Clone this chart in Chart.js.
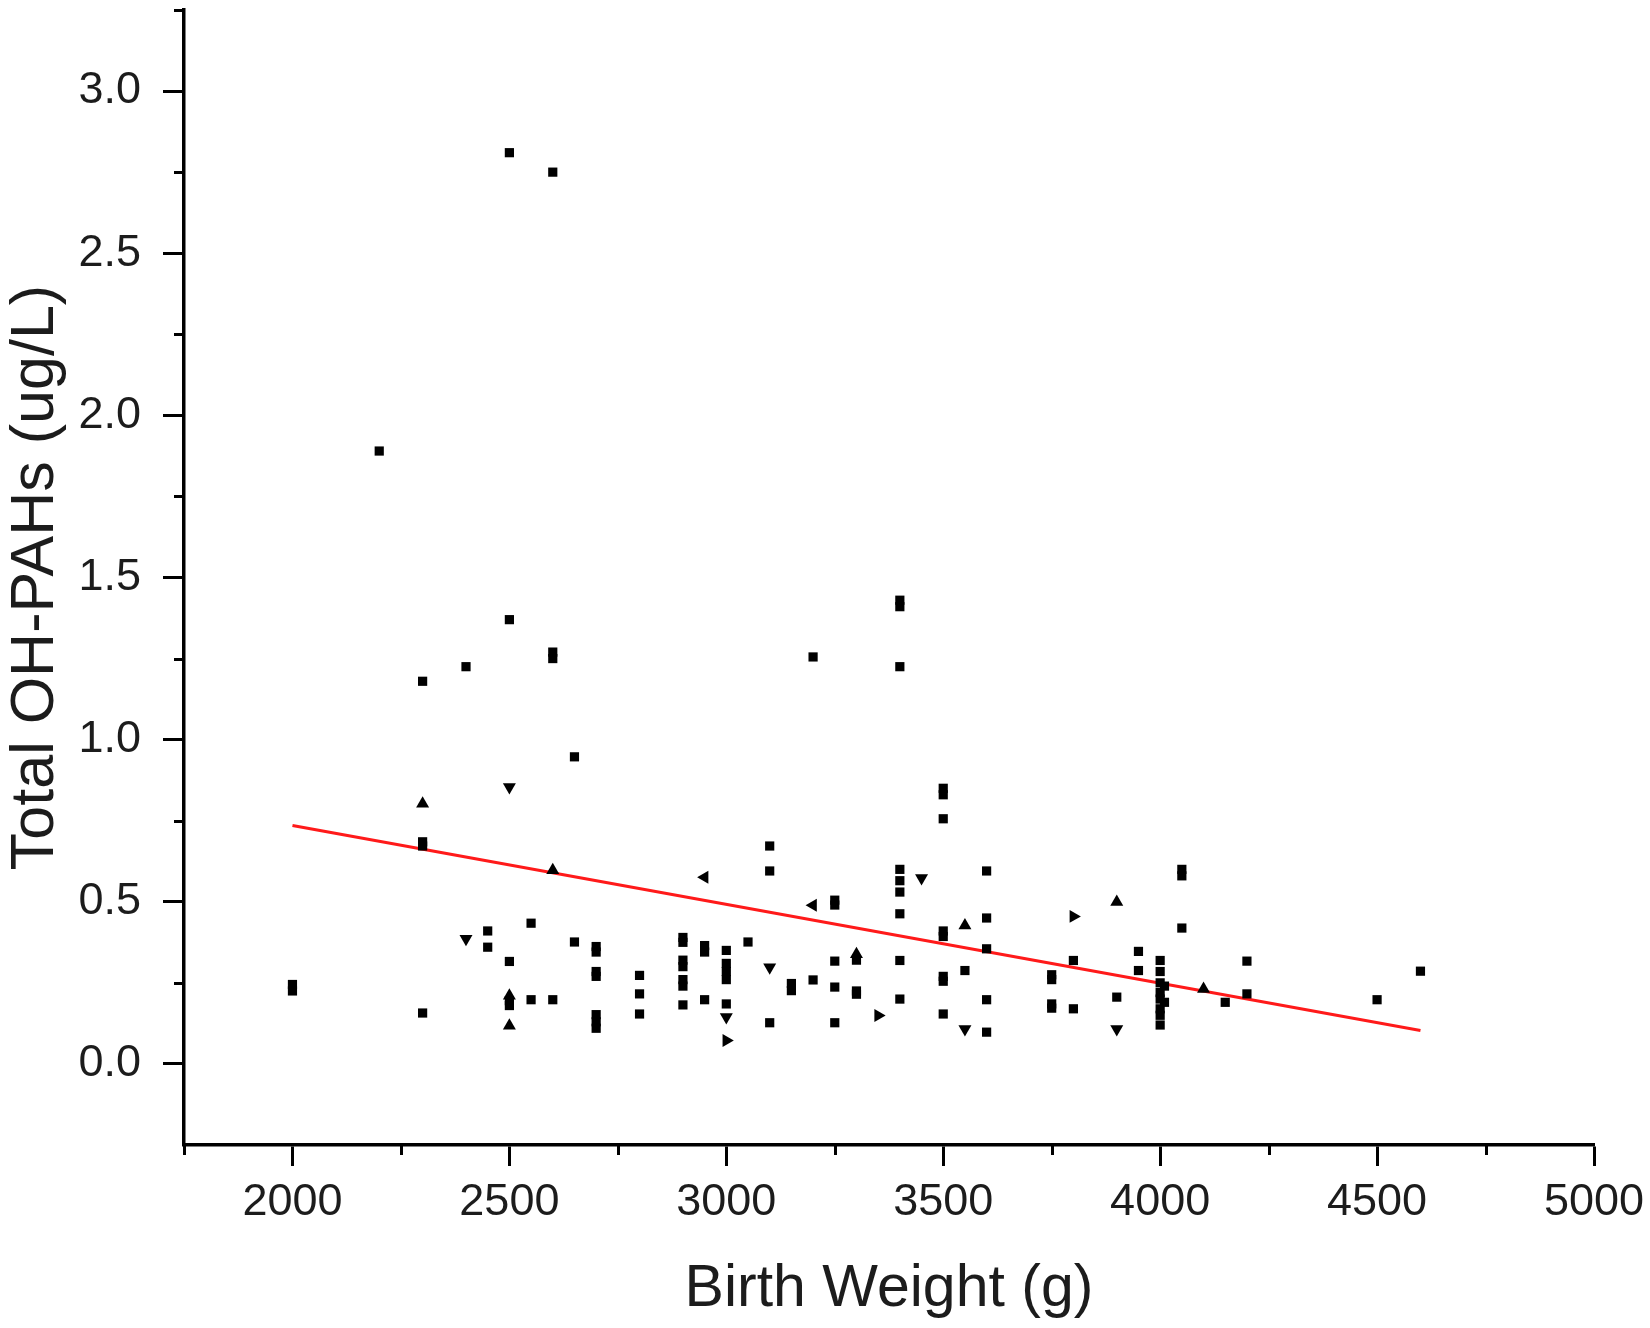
<!DOCTYPE html>
<html>
<head>
<meta charset="utf-8">
<script src="https://cdn.jsdelivr.net/npm/chart.js@4.4.0/dist/chart.umd.min.js"></script>
<style>
  html, body { margin: 0; padding: 0; background: #fff; }
  #wrap { width: 1650px; height: 1328px; }
</style>
</head>
<body>
<div id="wrap"><canvas id="c" width="1650" height="1328"></canvas></div>
<script>
// ---- data ----
const squareX = [2500,2600,2200,2300,2400,2500,2600,2600,3200,3400,3400,3400,2650,3500,3500,3500,3100,3100,2300,2300,
  3400,3400,3400,3600,4050,4050,3250,3250,3400,3600,4050,3500,3500,3600,3950,3950,2000,2000,2550,2450,
  2450,2500,2650,2700,2700,2700,2700,2700,2700,2700,2800,2800,2800,2500,2500,2550,2600,2300,2900,2900,
  2900,2900,2900,2900,2900,2950,2950,2950,3000,3000,3000,3000,3000,3050,3100,3150,3150,3200,3250,3250,
  3250,3300,3300,3300,3400,3400,3500,3500,3500,3550,3600,3600,3750,3750,3750,3750,3800,3800,3900,4000,
  4000,4000,4000,4000,4000,4000,4000,4010,4010,4150,4200,4200,4500,4600];
const squareY = [2.81,2.75,1.89,1.18,1.225,1.37,1.27,1.25,1.255,1.43,1.41,1.225,0.947,0.85,0.83,0.756,0.672,0.595,0.685,0.672,
  0.60,0.565,0.53,0.595,0.60,0.58,0.505,0.49,0.463,0.45,0.419,0.41,0.393,0.355,0.347,0.288,0.245,0.225,0.434,0.41,
  0.36,0.316,0.376,0.362,0.345,0.285,0.27,0.152,0.13,0.11,0.273,0.216,0.154,0.195,0.18,0.198,0.198,0.157,0.39,0.375,
  0.32,0.30,0.26,0.24,0.182,0.365,0.345,0.198,0.35,0.31,0.285,0.26,0.185,0.376,0.127,0.248,0.226,0.259,0.317,0.237,
  0.127,0.32,0.225,0.215,0.319,0.2,0.27,0.255,0.154,0.288,0.198,0.098,0.275,0.26,0.185,0.172,0.319,0.17,0.206,0.319,
  0.285,0.25,0.22,0.2,0.17,0.15,0.12,0.24,0.19,0.19,0.317,0.216,0.198,0.286];

const upTriX = [2300,2600,2500,2500,3300,3550,3900,4100];
const upTriY = [0.802,0.597,0.118,0.21,0.338,0.427,0.499,0.231];
const downTriX = [2500,2400,3450,3000,3100,3550,3900];
const downTriY = [0.854,0.386,0.573,0.145,0.298,0.108,0.108];
const leftTriX = [2950,3200];
const leftTriY = [0.576,0.489];
const rightTriX = [3000,3350,3800];
const rightTriY = [0.072,0.149,0.455];

const fitX = [2000,4600];
const fitY = [0.735,0.103];

const xTicks = [2000,2500,3000,3500,4000,4500,5000];
const xTickLabels = ['2000','2500','3000','3500','4000','4500','5000'];
const xMinorTicks = [1750,2250,2750,3250,3750,4250,4750];
const yTicks = [0,0.5,1,1.5,2,2.5,3];
const yTickLabels = ['0.0','0.5','1.0','1.5','2.0','2.5','3.0'];
const yMinorTicks = [0.25,0.75,1.25,1.75,2.25,2.75,3.25];

const xTitle = 'Birth Weight (g)';
const yTitle = 'Total OH-PAHs (ug/L)';

// ---- build ----
const pts = (xs, ys) => xs.map((x, i) => ({x: x, y: ys[i]}));
const FONT = "'Liberation Sans', Arial, sans-serif";
const TXT = '#1c1c1c';

function markerSet(data, style, rot, r) {
  return {
    type: 'scatter', data: data, pointStyle: style, rotation: rot,
    pointRadius: r, pointHoverRadius: r, backgroundColor: '#000', borderColor: '#000',
    pointBorderWidth: 0, borderWidth: 0, order: 1
  };
}

const minorTicksPlugin = {
  id: 'minorTicks',
  afterDraw(chart) {
    const ctx = chart.ctx;
    const xs = chart.scales.x, ys = chart.scales.y;
    const ca = chart.chartArea;
    ctx.save();
    ctx.strokeStyle = '#000';
    ctx.lineWidth = 3;
    ctx.beginPath();
    yMinorTicks.forEach(v => {
      const p = Math.round(ys.getPixelForValue(v)) + 0.5;
      ctx.moveTo(ca.left, p); ctx.lineTo(ca.left - 10, p);
    });
    xMinorTicks.forEach(v => {
      const p = Math.round(xs.getPixelForValue(v)) + 0.5;
      ctx.moveTo(p, ca.bottom); ctx.lineTo(p, ca.bottom + 10);
    });
    ctx.stroke();
    ctx.restore();
  }
};

new Chart(document.getElementById('c'), {
  type: 'scatter',
  data: {
    datasets: [
      markerSet(pts(squareX, squareY), 'rect', 0, 6.5),
      markerSet(pts(upTriX, upTriY), 'triangle', 0, 7.5),
      markerSet(pts(downTriX, downTriY), 'triangle', 180, 7.5),
      markerSet(pts(leftTriX, leftTriY), 'triangle', 270, 7.5),
      markerSet(pts(rightTriX, rightTriY), 'triangle', 90, 7.5),
      {
        type: 'line', data: pts(fitX, fitY), borderColor: '#ff1a1a', borderWidth: 3,
        pointRadius: 0, fill: false, tension: 0, order: 2
      }
    ]
  },
  options: {
    responsive: false,
    devicePixelRatio: 1,
    animation: false,
    layout: { padding: { top: 10, right: 56, bottom: 0, left: 0 } },
    plugins: { legend: { display: false }, tooltip: { enabled: false } },
    scales: {
      x: {
        type: 'linear', min: 1750, max: 5000,
        afterBuildTicks: s => { s.ticks = xTicks.map(v => ({value: v})); },
        afterFit: s => { s.height = 183; s.paddingLeft = 0; s.paddingRight = 0; },
        grid: { drawOnChartArea: false, drawTicks: true, tickLength: 21, tickWidth: 3, tickColor: '#000' },
        border: { display: true, color: '#000', width: 3.5 },
        ticks: {
          padding: 10, color: TXT, maxRotation: 0, autoSkip: false,
          font: { family: FONT, size: 45 },
          callback: (v) => { const i = xTicks.indexOf(v); return i >= 0 ? xTickLabels[i] : ''; }
        },
        title: { display: true, text: xTitle, color: TXT, font: { family: FONT, size: 59 }, padding: { top: 0, bottom: 3 } }
      },
      y: {
        type: 'linear', min: -0.25, max: 3.25,
        afterBuildTicks: s => { s.ticks = yTicks.map(v => ({value: v})); },
        afterFit: s => { s.width = 184; s.paddingTop = 0; s.paddingBottom = 0; },
        grid: { drawOnChartArea: false, drawTicks: true, tickLength: 21, tickWidth: 3, tickColor: '#000' },
        border: { display: true, color: '#000', width: 3.5 },
        ticks: {
          padding: 22, color: TXT, autoSkip: false,
          font: { family: FONT, size: 45 },
          callback: (v) => { const i = yTicks.indexOf(v); return i >= 0 ? yTickLabels[i] : ''; }
        },
        title: { display: true, text: yTitle, color: TXT, font: { family: FONT, size: 61 }, padding: { top: 0, bottom: 0 } }
      }
    }
  },
  plugins: [minorTicksPlugin]
});
</script>
</body>
</html>
